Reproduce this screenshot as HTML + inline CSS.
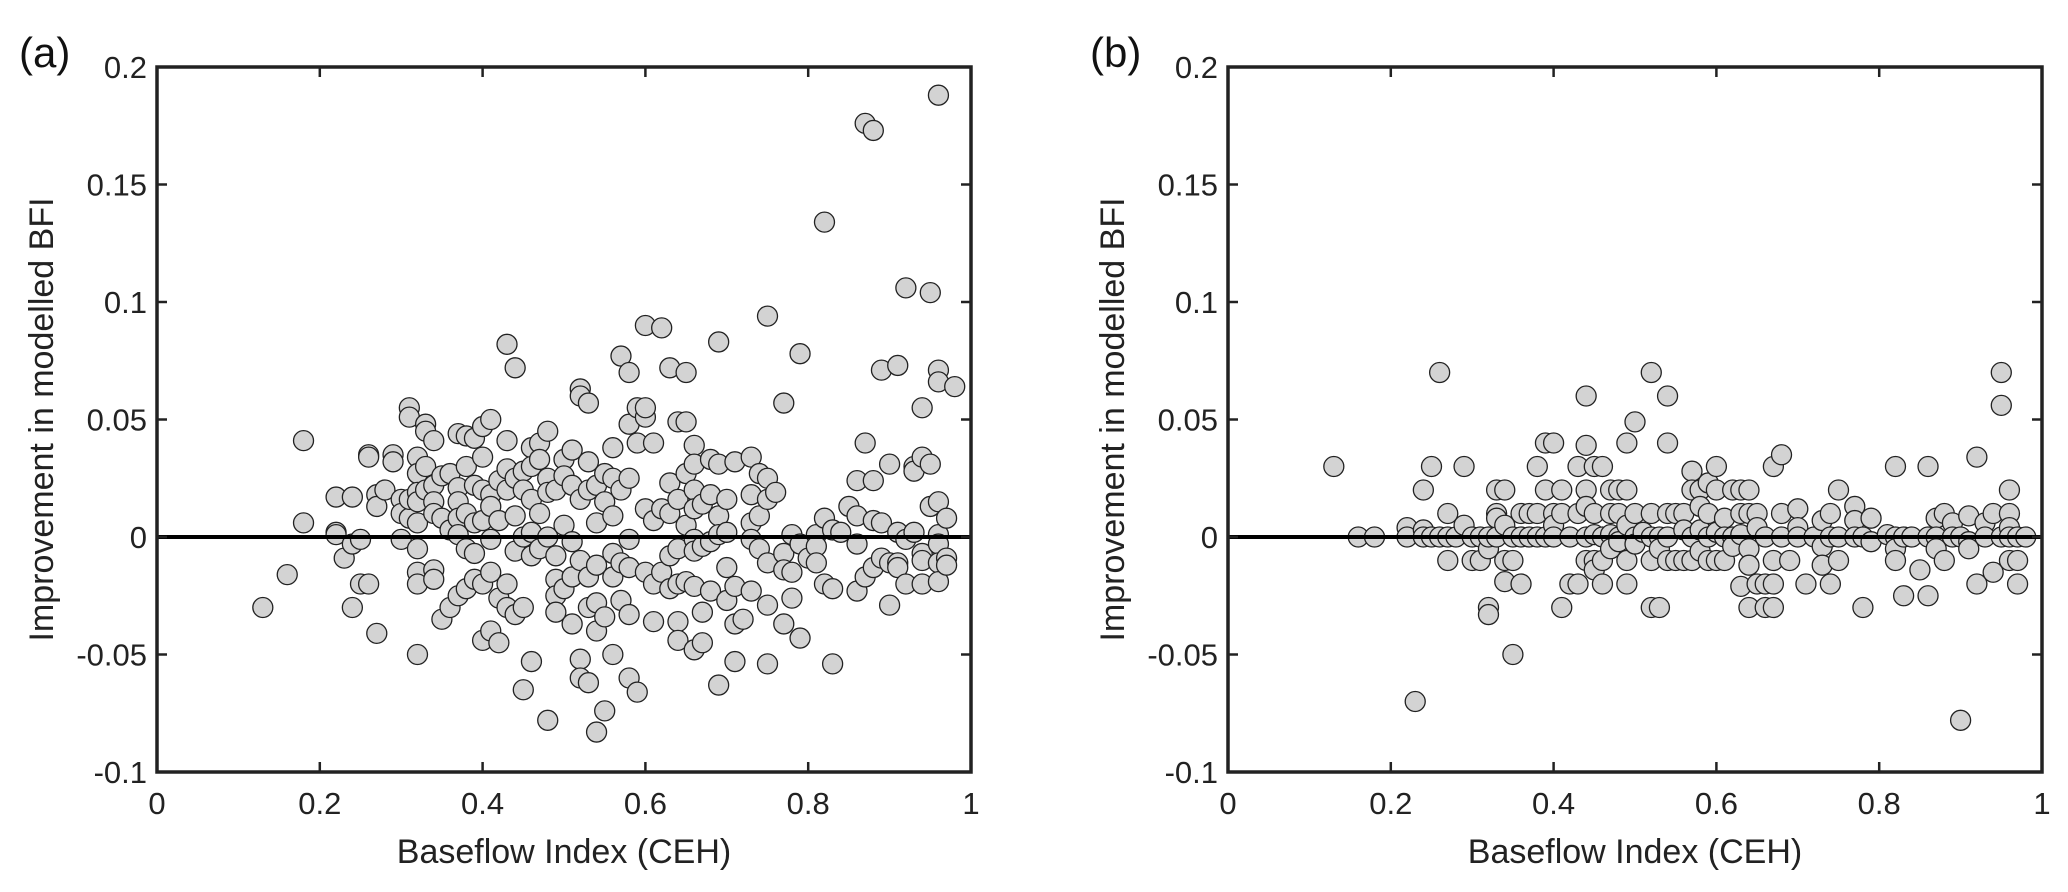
<!DOCTYPE html>
<html><head><meta charset="utf-8">
<style>
html,body{margin:0;padding:0;background:#fff;}
svg{display:block;font-family:"Liberation Sans",Arial,sans-serif;}
</style></head>
<body>
<svg id="fig" width="2068" height="892" viewBox="0 0 2068 892"></svg>
<script>
const xTicks=[0,0.2,0.4,0.6,0.8,1];
const xTickLabels=["0","0.2","0.4","0.6","0.8","1"];
const yTicks=[-0.1,-0.05,0,0.05,0.1,0.15,0.2];
const yTickLabels=["-0.1","-0.05","0","0.05","0.1","0.15","0.2"];
const panelLabels=["(a)","(b)"];
const xAxisTitle="Baseflow Index (CEH)";
const yAxisTitle="Improvement in modelled BFI";
const seriesA=[[0.13,-0.03],[0.16,-0.016],[0.18,0.041],[0.18,0.006],[0.22,0.017],[0.22,0.002],[0.22,0.001],[0.23,-0.009],[0.24,0.017],[0.24,-0.003],[0.24,-0.03],[0.25,-0.001],[0.25,-0.02],[0.26,-0.02],[0.26,0.035],[0.26,0.034],[0.27,-0.041],[0.27,0.018],[0.27,0.013],[0.28,0.02],[0.29,0.035],[0.29,0.032],[0.30,0.016],[0.30,0.01],[0.30,-0.001],[0.31,0.055],[0.31,0.051],[0.31,0.008],[0.31,0.016],[0.32,0.034],[0.32,0.027],[0.32,0.019],[0.32,0.015],[0.32,0.006],[0.32,-0.005],[0.32,-0.015],[0.32,-0.02],[0.32,-0.05],[0.33,0.048],[0.33,0.045],[0.33,0.03],[0.33,0.02],[0.34,0.041],[0.34,0.022],[0.34,0.015],[0.34,0.01],[0.34,-0.014],[0.34,-0.018],[0.35,0.026],[0.35,0.008],[0.35,-0.035],[0.36,0.027],[0.36,0.003],[0.36,-0.03],[0.37,0.044],[0.37,0.021],[0.37,0.015],[0.37,0.008],[0.37,0.001],[0.37,-0.025],[0.38,0.043],[0.38,0.03],[0.38,0.01],[0.38,-0.005],[0.38,-0.022],[0.39,0.042],[0.39,0.022],[0.39,0.006],[0.39,-0.007],[0.39,-0.018],[0.40,0.047],[0.40,0.034],[0.40,0.02],[0.40,0.007],[0.40,-0.02],[0.40,-0.044],[0.41,0.05],[0.41,0.018],[0.41,0.013],[0.41,-0.001],[0.41,-0.015],[0.41,-0.04],[0.42,0.024],[0.42,0.007],[0.42,-0.026],[0.42,-0.045],[0.43,0.082],[0.43,0.041],[0.43,0.029],[0.43,0.02],[0.43,-0.02],[0.43,-0.03],[0.44,0.072],[0.44,0.025],[0.44,0.009],[0.44,-0.006],[0.44,-0.033],[0.45,0.028],[0.45,0.02],[0.45,0.0],[0.45,-0.03],[0.45,-0.065],[0.46,0.038],[0.46,0.03],[0.46,0.016],[0.46,0.002],[0.46,-0.008],[0.46,-0.053],[0.47,0.04],[0.47,0.033],[0.47,0.01],[0.47,-0.005],[0.48,0.045],[0.48,0.025],[0.48,0.019],[0.48,0.0],[0.48,-0.078],[0.49,0.02],[0.49,-0.008],[0.49,-0.018],[0.49,-0.025],[0.49,-0.032],[0.50,0.033],[0.50,0.026],[0.50,0.005],[0.50,-0.022],[0.51,0.037],[0.51,0.022],[0.51,-0.002],[0.51,-0.017],[0.51,-0.037],[0.52,0.063],[0.52,0.06],[0.52,0.016],[0.52,-0.01],[0.52,-0.052],[0.52,-0.06],[0.53,0.057],[0.53,0.032],[0.53,0.02],[0.53,-0.017],[0.53,-0.03],[0.53,-0.062],[0.54,0.022],[0.54,0.006],[0.54,-0.012],[0.54,-0.028],[0.54,-0.04],[0.54,-0.083],[0.55,0.027],[0.55,0.015],[0.55,-0.034],[0.55,-0.074],[0.56,0.038],[0.56,0.025],[0.56,0.009],[0.56,-0.007],[0.56,-0.017],[0.56,-0.05],[0.57,0.077],[0.57,0.02],[0.57,-0.011],[0.57,-0.027],[0.58,0.07],[0.58,0.048],[0.58,0.025],[0.58,-0.001],[0.58,-0.013],[0.58,-0.033],[0.58,-0.06],[0.59,0.055],[0.59,0.04],[0.59,-0.066],[0.60,0.09],[0.60,0.051],[0.60,0.055],[0.60,0.012],[0.60,-0.015],[0.61,0.04],[0.61,0.007],[0.61,-0.02],[0.61,-0.036],[0.62,0.089],[0.62,0.012],[0.62,-0.015],[0.63,0.072],[0.63,0.023],[0.63,0.01],[0.63,-0.008],[0.63,-0.022],[0.64,0.049],[0.64,0.016],[0.64,-0.005],[0.64,-0.02],[0.64,-0.036],[0.64,-0.044],[0.65,0.07],[0.65,0.049],[0.65,0.027],[0.65,0.005],[0.65,-0.019],[0.66,0.039],[0.66,0.031],[0.66,0.02],[0.66,0.012],[0.66,-0.001],[0.66,-0.006],[0.66,-0.021],[0.66,-0.048],[0.67,0.014],[0.67,-0.004],[0.67,-0.032],[0.67,-0.045],[0.68,0.033],[0.68,0.018],[0.68,-0.002],[0.68,-0.023],[0.69,0.083],[0.69,0.031],[0.69,0.009],[0.69,0.001],[0.69,-0.063],[0.70,0.016],[0.70,0.002],[0.70,-0.013],[0.70,-0.027],[0.71,0.032],[0.71,-0.021],[0.71,-0.037],[0.71,-0.053],[0.72,-0.035],[0.73,0.034],[0.73,0.018],[0.73,0.006],[0.73,-0.001],[0.73,-0.023],[0.74,0.027],[0.74,0.009],[0.74,-0.005],[0.75,0.094],[0.75,0.025],[0.75,0.016],[0.75,-0.011],[0.75,-0.029],[0.75,-0.054],[0.76,0.019],[0.77,0.057],[0.77,-0.007],[0.77,-0.014],[0.77,-0.037],[0.78,0.001],[0.78,-0.015],[0.78,-0.026],[0.79,0.078],[0.79,-0.003],[0.79,-0.043],[0.80,-0.009],[0.81,0.001],[0.81,-0.004],[0.81,-0.011],[0.82,0.134],[0.82,0.008],[0.82,-0.02],[0.83,0.003],[0.83,-0.022],[0.83,-0.054],[0.84,0.002],[0.85,0.013],[0.86,0.024],[0.86,0.009],[0.86,-0.003],[0.86,-0.023],[0.87,0.176],[0.87,0.04],[0.87,-0.017],[0.88,0.173],[0.88,0.024],[0.88,0.007],[0.88,-0.013],[0.89,0.071],[0.89,0.006],[0.89,-0.009],[0.90,0.031],[0.90,-0.011],[0.90,-0.029],[0.91,0.073],[0.91,0.002],[0.91,-0.011],[0.91,-0.013],[0.92,0.106],[0.92,-0.001],[0.92,-0.02],[0.93,0.03],[0.93,0.028],[0.93,0.002],[0.94,0.055],[0.94,0.034],[0.94,-0.007],[0.94,-0.01],[0.94,-0.02],[0.95,0.104],[0.95,0.031],[0.95,0.013],[0.96,0.188],[0.96,0.071],[0.96,0.066],[0.96,0.015],[0.96,0.001],[0.96,-0.003],[0.96,-0.011],[0.96,-0.019],[0.97,0.008],[0.97,-0.009],[0.97,-0.012],[0.98,0.064]];
const seriesB=[[0.13,0.03],[0.16,0],[0.18,0],[0.22,0.004],[0.22,0],[0.23,-0.07],[0.24,0.02],[0.24,0.003],[0.24,0],[0.25,0.03],[0.25,0],[0.26,0.07],[0.26,0],[0.27,0.01],[0.27,-0.01],[0.27,0],[0.28,0],[0.29,0.03],[0.29,0.005],[0.30,0],[0.30,-0.01],[0.31,0],[0.31,-0.01],[0.32,-0.03],[0.32,-0.033],[0.32,-0.005],[0.32,0],[0.33,0.02],[0.33,0.01],[0.33,0.008],[0.33,0],[0.34,0.02],[0.34,0.005],[0.34,-0.01],[0.34,-0.019],[0.35,0.0],[0.35,-0.01],[0.35,-0.05],[0.36,0.01],[0.36,0],[0.36,-0.02],[0.37,0.01],[0.37,0],[0.38,0.03],[0.38,0.01],[0.38,0],[0.39,0.04],[0.39,0.02],[0.39,0],[0.40,0.04],[0.40,0.01],[0.40,0.005],[0.40,0],[0.41,0.02],[0.41,0.01],[0.41,-0.03],[0.42,0],[0.42,-0.02],[0.43,0.03],[0.43,0.01],[0.43,-0.02],[0.44,0.06],[0.44,0.039],[0.44,0.02],[0.44,0.013],[0.44,0],[0.44,-0.01],[0.45,0.03],[0.45,0.01],[0.45,0.001],[0.45,-0.01],[0.45,-0.014],[0.46,0.03],[0.46,0],[0.46,-0.01],[0.46,-0.02],[0.47,0.02],[0.47,0.01],[0.47,0.001],[0.47,-0.005],[0.48,0.02],[0.48,0.01],[0.48,0],[0.48,-0.002],[0.49,0.04],[0.49,0.02],[0.49,0.005],[0.49,-0.01],[0.49,-0.02],[0.50,0.049],[0.50,0.01],[0.50,0],[0.50,-0.003],[0.51,0.002],[0.52,0.07],[0.52,0.01],[0.52,0],[0.52,-0.01],[0.52,-0.03],[0.53,0.0],[0.53,-0.005],[0.53,-0.03],[0.54,0.06],[0.54,0.04],[0.54,0.01],[0.54,0],[0.54,-0.01],[0.55,0.01],[0.55,-0.01],[0.56,0.01],[0.56,0.003],[0.56,-0.01],[0.57,0.028],[0.57,0.02],[0.57,0],[0.57,-0.01],[0.58,0.02],[0.58,0.013],[0.58,0.003],[0.58,-0.006],[0.59,0.023],[0.59,0.01],[0.59,0],[0.59,-0.01],[0.60,0.03],[0.60,0.02],[0.60,0.002],[0.60,-0.01],[0.61,0.008],[0.61,0],[0.61,-0.01],[0.62,0.02],[0.62,0],[0.62,-0.004],[0.63,0.02],[0.63,0.01],[0.63,0.001],[0.63,-0.021],[0.64,0.02],[0.64,0.01],[0.64,-0.005],[0.64,-0.012],[0.64,-0.03],[0.65,0.01],[0.65,0.004],[0.65,-0.02],[0.66,0],[0.66,-0.02],[0.66,-0.03],[0.67,0.03],[0.67,-0.01],[0.67,-0.02],[0.67,-0.03],[0.68,0.035],[0.68,0.01],[0.68,0],[0.69,-0.01],[0.70,0.012],[0.70,0.004],[0.70,0],[0.71,-0.02],[0.72,0],[0.73,0.007],[0.73,-0.004],[0.73,-0.012],[0.74,0.01],[0.74,0],[0.74,-0.02],[0.75,0.02],[0.75,0],[0.75,-0.01],[0.77,0.013],[0.77,0.007],[0.77,0],[0.78,0],[0.78,-0.03],[0.79,0.008],[0.79,-0.002],[0.81,0.001],[0.82,0.03],[0.82,0],[0.82,-0.005],[0.82,-0.01],[0.83,0],[0.83,-0.025],[0.84,0],[0.85,-0.014],[0.86,0.03],[0.86,0],[0.86,-0.025],[0.87,0.008],[0.87,0],[0.87,-0.005],[0.88,0.01],[0.88,-0.01],[0.89,0.006],[0.89,0.0],[0.90,0],[0.90,-0.078],[0.91,0.009],[0.91,-0.002],[0.91,-0.005],[0.92,0.034],[0.92,-0.02],[0.93,0.006],[0.93,0],[0.94,0.01],[0.94,-0.015],[0.95,0.07],[0.95,0.056],[0.95,0],[0.96,0.02],[0.96,0.01],[0.96,0.004],[0.96,0],[0.96,-0.01],[0.97,0],[0.97,-0.01],[0.97,-0.02],[0.98,0]];

const NS="http://www.w3.org/2000/svg";
const svg=document.getElementById('fig');
function mk(tag,attrs,parent){const e=document.createElementNS(NS,tag);for(const k in attrs)e.setAttribute(k,attrs[k]);(parent||svg).appendChild(e);return e;}

const panels=[{left:157,right:971,data:seriesA,id:'a'},{left:1228,right:2042,data:seriesB,id:'b'}];
const plotTop=67,plotBottom=772,yMin=-0.1,yMax=0.2;

panels.forEach((p,pi)=>{
  const g=mk('g',{});
  
  
  const sx=v=>p.left+v*(p.right-p.left);
  const sy=v=>plotBottom-(v-yMin)/(yMax-yMin)*(plotBottom-plotTop);
  const pts=mk('g',{},g);
  
  
  p.data.forEach(d=>{
    const c=mk('circle',{cx:sx(d[0]),cy:sy(d[1]),r:10,fill:'#d3d3d3',stroke:'#222','stroke-width':1.3},pts);
    
    
  });
  const zl=mk('line',{x1:sx(0),x2:sx(1),y1:sy(0),y2:sy(0),stroke:'#000','stroke-width':4},g);
  
  
  xTicks.forEach((t,i)=>{
    const x=sx(t);
    mk('line',{x1:x,x2:x,y1:plotBottom,y2:plotBottom-10,stroke:'#222','stroke-width':2.5},g);
    mk('line',{x1:x,x2:x,y1:plotTop,y2:plotTop+10,stroke:'#222','stroke-width':2.5},g);
    const tx=mk('text',{x:x,y:814,'font-size':31,'text-anchor':'middle',fill:'#222'},g);
    tx.textContent=xTickLabels[i];
    
    
  });
  yTicks.forEach((t,i)=>{
    const y=sy(t);
    mk('line',{x1:p.left,x2:p.left+10,y1:y,y2:y,stroke:'#222','stroke-width':2.5},g);
    mk('line',{x1:p.right,x2:p.right-10,y1:y,y2:y,stroke:'#222','stroke-width':2.5},g);
    const tx=mk('text',{x:p.left-10,y:y+11,'font-size':31,'text-anchor':'end',fill:'#222'},g);
    tx.textContent=yTickLabels[i];
    
    
  });
  const box=mk('rect',{x:p.left,y:plotTop,width:p.right-p.left,height:plotBottom-plotTop,fill:'none',stroke:'#222','stroke-width':3.5},g);
  
  
  const xl=mk('text',{x:(p.left+p.right)/2,y:863,'font-size':34,'text-anchor':'middle',fill:'#222'},g);
  xl.textContent=xAxisTitle;
  
  
  const yx=p.left-104;
  const ymid=(plotTop+plotBottom)/2;
  const yl=mk('text',{x:yx,y:ymid,'font-size':34,'text-anchor':'middle',fill:'#222',transform:`rotate(-90 ${yx} ${ymid})`},g);
  yl.textContent=yAxisTitle;
  
  
  const pl=mk('text',{x:p.left-138,y:67,'font-size':42,fill:'#111'},g);
  pl.textContent=panelLabels[pi];
  
  
});
</script>
</body></html>
